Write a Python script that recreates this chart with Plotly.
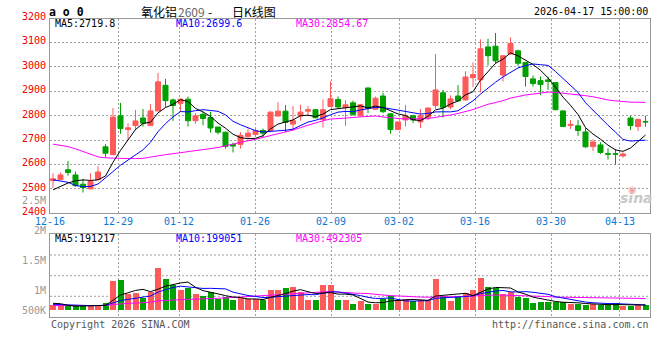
import plotly.graph_objects as go

# ---------------- data ----------------
dates = ["12-16", "12-17", "12-18", "12-19", "12-22", "12-23", "12-24", "12-25", "12-26", "12-29", "12-30", "12-31",
         "01-05", "01-06", "01-07", "01-08", "01-09", "01-12", "01-13", "01-14", "01-15", "01-16", "01-19", "01-20",
         "01-21", "01-22", "01-23", "01-26", "01-27", "01-28", "01-29", "01-30",
         "02-02", "02-03", "02-04", "02-05", "02-06", "02-09", "02-10", "02-11", "02-12", "02-13", "02-24", "02-25",
         "02-26", "02-27",
         "03-02", "03-03", "03-04", "03-05", "03-06", "03-09", "03-10", "03-11", "03-12", "03-13", "03-16", "03-17",
         "03-18", "03-19", "03-20", "03-23", "03-24", "03-25", "03-26", "03-27", "03-30", "03-31",
         "04-01", "04-02", "04-03", "04-07", "04-08", "04-09", "04-10", "04-13", "04-14", "04-15", "04-16", "04-17"]

opens = [2534, 2538, 2578, 2557, 2519, 2500, 2538, 2672, 2640, 2799, 2743, 2759, 2790, 2759, 2819, 2924, 2864, 2850,
         2867, 2779, 2805, 2792, 2753, 2732, 2682, 2682, 2714, 2723, 2739, 2738, 2798, 2818, 2765, 2798, 2818, 2824,
         2784, 2837, 2866, 2832, 2852, 2799, 2913, 2826, 2880, 2807, 2743, 2782, 2799, 2774, 2793, 2841, 2893, 2835,
         2880, 2864, 2955, 2946, 3081, 3084, 2966, 3052, 3065, 3017, 2950, 2943, 2946, 2935, 2819, 2759, 2758, 2733,
         2673, 2680, 2644, 2644, 2635, 2790, 2755, 2776]
highs = [2564, 2567, 2614, 2571, 2541, 2564, 2594, 2683, 2831, 2852, 2769, 2823, 2827, 2848, 2975, 2950, 2870, 2870,
         2878, 2810, 2816, 2816, 2753, 2735, 2689, 2732, 2747, 2749, 2747, 2818, 2855, 2843, 2839, 2844, 2839, 2826,
         2866, 2941, 2878, 2863, 2861, 2848, 2915, 2878, 2894, 2810, 2776, 2844, 2803, 2827, 2833, 3052, 2905, 2883,
         2925, 2981, 3018, 3112, 3115, 3138, 3048, 3120, 3069, 3020, 2964, 2960, 2960, 2937, 2821, 2782, 2782, 2749,
         2703, 2691, 2666, 2663, 2649, 2799, 2788, 2799]
lows = [2503, 2536, 2554, 2509, 2485, 2498, 2536, 2628, 2638, 2726, 2700, 2741, 2755, 2759, 2819, 2834, 2778, 2816,
        2755, 2766, 2760, 2730, 2723, 2665, 2649, 2665, 2702, 2712, 2712, 2736, 2797, 2732, 2738, 2779, 2798, 2789,
        2751, 2835, 2832, 2758, 2799, 2796, 2810, 2824, 2810, 2726, 2740, 2755, 2769, 2749, 2782, 2827, 2792, 2826,
        2858, 2862, 2917, 2895, 3005, 3014, 2939, 3050, 3003, 2919, 2919, 2884, 2905, 2822, 2753, 2745, 2717, 2669,
        2655, 2643, 2620, 2598, 2628, 2741, 2737, 2755]
closes = [2541, 2557, 2567, 2513, 2505, 2530, 2569, 2646, 2794, 2747, 2750, 2778, 2769, 2819, 2938, 2861, 2841, 2867,
          2779, 2799, 2788, 2749, 2732, 2674, 2675, 2719, 2728, 2738, 2728, 2814, 2818, 2772, 2779, 2814, 2824, 2791,
          2824, 2869, 2835, 2844, 2805, 2844, 2829, 2871, 2816, 2743, 2774, 2799, 2782, 2799, 2831, 2905, 2834, 2868,
          2860, 2958, 2968, 3073, 3045, 3024, 3045, 3095, 3014, 2960, 2931, 2927, 2940, 2824, 2755, 2764, 2739, 2672,
          2692, 2649, 2642, 2642, 2643, 2759, 2784, 2774]
volumes = [194000, 194000, 117000, 117000, 117000, 194000, 194000, 271000, 1272000, 1349000, 702000, 748000,
           502000, 764000, 1903000, 1395000, 1118000, 887000, 964000, 702000, 610000, 794000, 471000, 548000,
           394000, 502000, 456000, 456000, 425000, 887000, 856000, 979000, 1025000, 764000, 425000, 425000,
           1118000, 1118000, 394000, 425000, 240000, 348000, 240000, 240000, 456000, 610000, 394000, 456000,
           348000, 425000, 425000, 1395000, 610000, 348000, 579000, 748000, 856000, 1441000, 1025000, 964000,
           702000, 764000, 533000, 517000, 271000, 332000, 332000, 332000, 332000, 240000, 240000, 163000,
           209000, 194000, 240000, 271000, 148000, 148000, 194000, 194000]

# moving-average values before a full window exists
ma5_head = [2496, 2509, 2524, 2533]
ma10_head = [2537, 2533, 2527, 2514, 2509, 2510, 2520, 2545, 2572]
ma30_head = [2683, 2679, 2673, 2664, 2652, 2640, 2631, 2627, 2625, 2624, 2624, 2624, 2625, 2630, 2636, 2640,
             2644, 2648, 2652, 2656, 2660, 2664, 2669, 2676, 2684, 2691, 2697, 2703, 2710]
vma5_head = [271000, 255000, 180000, 140000]
vma10_head = [225000, 210000, 190000, 175000, 165000, 165000, 170000, 180000, 287000]
vma30_head = [165000, 165000, 165000, 165000, 165000, 165000, 168000, 172000, 215000, 250000, 270000, 285000,
              300000, 320000, 383000, 410000, 430000, 450000, 460000, 465000, 470000, 490000, 505000, 520000,
              540000, 560000, 585000, 605000, 620000]

tick_labels = ["12-16", "12-29", "01-12", "01-26", "02-09", "03-02", "03-16", "03-30", "04-13"]
price_ticks = [2400, 2500, 2600, 2700, 2800, 2900, 3000, 3100, 3200]
vol_tick_text = ["2.5M", "2M", "1.5M", "1M", "500K"]

title_name = "氧化铝"
title_code = "2609"
title_kind = "日K线图"
stamp = "2026-04-17 15:00:00"
ma_main_text = ["MA5:2719.8", "MA10:2699.6", "MA30:2854.67"]
ma_vol_text = ["MA5:191217", "MA10:199051", "MA30:492305"]

# ---------------- styling / layout constants ----------------
RED = "#ff5a5a"
GREEN = "#00a000"
GRID = "#a0a0a0"
BORDER = "#999999"
MONO = "DejaVu Sans Mono"
W, H = 660, 360
PX_L, PX_R = 50, 650
MAIN_TOP, MAIN_BOT = 19.3, 213.3
VOL_TOP, VOL_BOT = 234.3, 317.3
P_MIN, P_MAX = 2400, 3194
N = len(dates)
X0 = -0.4
XR = [X0, X0 + N]
VOL_ZERO_PX = 309.2
VOL_PER_PX = 46200
V_MAX = (VOL_ZERO_PX - VOL_TOP) * VOL_PER_PX
V_MIN = -(VOL_BOT - VOL_ZERO_PX) * VOL_PER_PX
VOL_BASE = -68000


def fx(px):
    return px / W


def fy(py):
    return 1 - py / H


def py_price(p):
    return MAIN_BOT - (p - P_MIN) / (P_MAX - P_MIN) * (MAIN_BOT - MAIN_TOP)


def rolling(vals, n, head):
    out = list(head)
    for i in range(len(head), len(vals)):
        out.append(sum(vals[i - n + 1:i + 1]) / n)
    return out


x = list(range(N))
ma5 = rolling(closes, 5, ma5_head)
ma10 = rolling(closes, 10, ma10_head)
ma30 = rolling(closes, 30, ma30_head)
vma5 = rolling(volumes, 5, vma5_head)
vma10 = rolling(volumes, 10, vma10_head)
vma30 = rolling(volumes, 30, vma30_head)

tick_idx = [dates.index(t) for t in tick_labels]
grid_x = [X0 + i * N / (N - 1) for i in tick_idx]
label_px = [PX_L + i * (PX_R - PX_L) / (N - 1) for i in tick_idx]

fig = go.Figure()
fig.add_trace(go.Candlestick(
    x=x, open=opens, high=highs, low=lows, close=closes,
    increasing=dict(line=dict(color=RED, width=1), fillcolor=RED),
    decreasing=dict(line=dict(color=GREEN, width=1), fillcolor=GREEN),
    whiskerwidth=0, hoverinfo="skip", xaxis="x", yaxis="y"))
for vals, col in ((ma30, "#ff00ff"), (ma10, "#0000ff"), (ma5, "#000000")):
    fig.add_trace(go.Scatter(x=x, y=vals, mode="lines", line=dict(color=col, width=1),
                             hoverinfo="skip", xaxis="x", yaxis="y"))

bar_colors = [RED if c >= o else GREEN for o, c in zip(opens, closes)]
fig.add_trace(go.Bar(x=x, y=[v - VOL_BASE for v in volumes], base=VOL_BASE, width=0.8,
                     marker=dict(color=bar_colors, line=dict(width=0)),
                     hoverinfo="skip", xaxis="x2", yaxis="y2"))
for vals, col in ((vma30, "#ff00ff"), (vma10, "#0000ff"), (vma5, "#000000")):
    fig.add_trace(go.Scatter(x=x, y=vals, mode="lines", line=dict(color=col, width=1),
                             hoverinfo="skip", xaxis="x2", yaxis="y2"))

xdom = [fx(PX_L), fx(PX_R)]
axis_common = dict(showline=True, mirror=True, linecolor=BORDER, linewidth=1, zeroline=False,
                   ticks="", showticklabels=False, fixedrange=True)
fig.update_layout(
    width=W, height=H, autosize=False,
    margin=dict(l=0, r=0, t=0, b=0),
    paper_bgcolor="white", plot_bgcolor="white",
    showlegend=False, hovermode=False, boxgap=0.33, boxgroupgap=0, bargap=0,
    xaxis=dict(domain=xdom, range=XR, anchor="y", tickmode="array", tickvals=grid_x,
               showgrid=True, gridcolor=GRID, griddash="2px,2px", gridwidth=1,
               rangeslider=dict(visible=False), **axis_common),
    yaxis=dict(domain=[fy(MAIN_BOT), fy(MAIN_TOP)], range=[P_MIN, P_MAX], anchor="x",
               tick0=P_MIN, dtick=100, showgrid=True, gridcolor=GRID, griddash="2px,2px",
               gridwidth=1, **axis_common),
    xaxis2=dict(domain=xdom, range=XR, anchor="y2", tickmode="array", tickvals=grid_x,
                showgrid=True, gridcolor=GRID, griddash="2px,2px", gridwidth=1, **axis_common),
    yaxis2=dict(domain=[fy(VOL_BOT), fy(VOL_TOP)], range=[V_MIN, V_MAX], anchor="x2",
                showgrid=False, **axis_common),
)

# volume panel horizontal grid lines
shapes = []
for gpy in (255.0, 275.7, 296.3):
    shapes.append(dict(type="line", xref="paper", yref="paper", x0=fx(PX_L), x1=fx(PX_R),
                       y0=fy(gpy), y1=fy(gpy), layer="below",
                       line=dict(color=GRID, width=1, dash="2px,2px")))
fig.update_layout(shapes=shapes)

ann = []


def add_text(text, px, py, anchor="left", color="#000000", size=10, family=MONO, **kw):
    ann.append(dict(text=text, x=fx(px), y=fy(py), xref="paper", yref="paper", xanchor=anchor,
                    yanchor="middle", showarrow=False, borderpad=0,
                    font=dict(family=family, size=size, color=color), **kw))


# header
add_text("<b>a o 0</b>", 48, 11.5, size=11.5)
add_text(title_name, 140, 11.5, family="Noto Sans CJK SC", size=12)
add_text(title_code, 177, 11.5, color="#666666", family="Noto Sans CJK SC", size=12)
add_text("-", 210, 11.5, family="Noto Sans CJK SC", size=12, anchor="center")
add_text(title_kind, 231, 11.5, family="Noto Sans CJK SC", size=12)
add_text(stamp, 649, 12, anchor="right")

# MA legends
for txt, px, col in zip(ma_main_text, (54, 175, 295), ("#000000", "#0000ff", "#ff00ff")):
    add_text(txt, px, 24, color=col)
for txt, px, col in zip(ma_vol_text, (54, 175, 295), ("#000000", "#0000ff", "#ff00ff")):
    add_text(txt, px, 238, color=col)

# price labels
for p in price_ticks:
    add_text(str(p), 47, py_price(p) - 1.5, anchor="right", color="#ee0000")
# volume labels
for txt, vpy in zip(vol_tick_text, (200.3, 230.7, 260.7, 290.7, 310.0)):
    add_text(txt, 47, vpy, anchor="right", color="#999999")
# date labels
for txt, lpx in zip(tick_labels, label_px):
    add_text(txt, lpx, 221, anchor="center", color="#0a78d6")

# footer
add_text("Copyright 2026 SINA.COM", 50, 324, color="#555555")
add_text("http://finance.sina.com.cn", 650, 324, anchor="right", color="#555555")

# watermark
add_text("<b><i>sina</i></b>", 636, 198, anchor="center", color="#c8c8c8", size=14, family="DejaVu Sans")
add_text("◉", 632, 189, anchor="center", color="#f0a8a8", size=10, family="DejaVu Sans")

fig.update_layout(annotations=ann)
fig.write_html("out.html", config={"displayModeBar": False},
               post_script="document.body.style.margin='0px';")
